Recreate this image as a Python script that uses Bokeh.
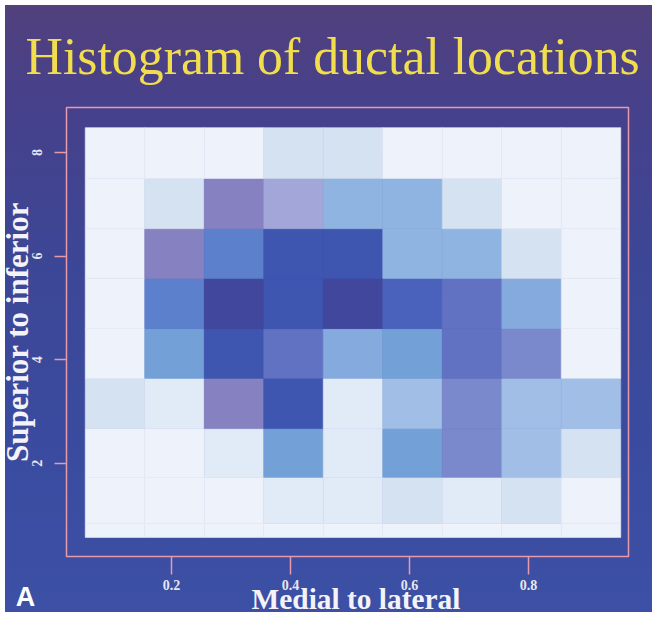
from bokeh.plotting import figure
from bokeh.models import ColumnDataSource, LinearColorMapper, FixedTicker, Label, Title
from bokeh.embed import file_html
from bokeh.resources import INLINE

# ---------------- data ----------------
# bin edges (medial->lateral on x, superior->inferior on y)
x_edges = [0.055, 0.155, 0.255, 0.355, 0.455, 0.555, 0.655, 0.755, 0.855, 0.955]
y_edges = [0.57, 0.84, 1.73, 2.67, 3.64, 4.60, 5.57, 6.53, 7.50, 8.48]
# histogram levels per bin, rows listed from the lowest y bin to the highest
counts_row0 = [0, 0, 0, 0, 0, 0, 0, 0, 0]
counts_row1 = [0, 0, 0, 1, 1, 2, 1, 2, 0]
counts_row2 = [0, 0, 1, 7, 1, 7, 9, 3, 2]
counts_row3 = [2, 1, 8, 13, 1, 3, 9, 3, 3]
counts_row4 = [0, 7, 13, 11, 6, 7, 11, 9, 0]
counts_row5 = [0, 10, 14, 13, 14, 12, 11, 6, 0]
counts_row6 = [0, 8, 10, 13, 13, 4, 4, 2, 0]
counts_row7 = [0, 2, 8, 5, 4, 4, 2, 0, 0]
counts_row8 = [0, 0, 0, 2, 2, 0, 0, 0, 0]
counts = [counts_row0, counts_row1, counts_row2, counts_row3, counts_row4,
          counts_row5, counts_row6, counts_row7, counts_row8]

x_ticks = [0.2, 0.4, 0.6, 0.8]
x_tick_labels = ["0.2", "0.4", "0.6", "0.8"]
y_ticks = [2, 4, 6, 8]
y_tick_labels = ["2", "4", "6", "8"]

title_text = "Histogram of ductal locations"
x_title = "Medial to lateral"
y_title = "Superior to inferior"
panel_tag = "A"

# ---------------- styles ----------------
palette = ["#eef2fb", "#e1eaf7", "#d5e2f2", "#a0bee6", "#90b4e2", "#a2a6d8",
           "#84aade", "#74a0d8", "#8682c2", "#7a88cc", "#5c80cc", "#6272c2",
           "#4a62bc", "#3f56b0", "#41479c"]
pink = "#e89aaa"
serif = "Liberation Serif"
label_white = "#f3f3f8"

left, right, bottom, top, val = [], [], [], [], []
for j in range(len(y_edges) - 1):
    for i in range(len(x_edges) - 1):
        left.append(x_edges[i])
        right.append(x_edges[i + 1])
        bottom.append(y_edges[j])
        top.append(y_edges[j + 1])
        val.append(counts[j][i])
src = ColumnDataSource(dict(left=left, right=right, bottom=bottom, top=top, count=val))
mapper = LinearColorMapper(palette=palette, low=-0.5, high=len(palette) - 0.5)

p = figure(width=657, height=617, x_range=(0.0235, 0.968), y_range=(0.201, 8.869),
           output_backend="svg", toolbar_location=None,
           min_border_left=66, min_border_right=29, min_border_top=107, min_border_bottom=61)

p.background_fill_color = None
p.border_fill_color = None
p.styles = {
    "background": "linear-gradient(180deg, #52417c 0%, #47408a 16%, #3d4695 40%, #3a4b9f 70%, #3c50a5 100%)",
    "box-shadow": "inset 0 0 0 5px #ffffff",
}
p.outline_line_color = pink
p.outline_line_width = 1.5
p.grid.visible = False

p.quad(left="left", right="right", bottom="bottom", top="top", source=src,
       fill_color={"field": "count", "transform": mapper},
       line_color={"field": "count", "transform": mapper}, line_width=0.6)

# title
p.title.text = title_text
p.title.text_font = serif
p.title.text_font_size = "51.8px"
p.title.text_font_style = "normal"
p.title.text_color = "#f1dd4e"
p.title.align = "left"
p.title.offset = -41
p.title.standoff = 46

# axes
for ax in (p.xaxis[0], p.yaxis[0]):
    ax.axis_line_color = None
    ax.major_tick_line_color = pink
    ax.major_tick_line_width = 1.5
    ax.major_tick_in = 0
    ax.minor_tick_line_color = None
    ax.major_label_text_font = serif
    ax.major_label_text_font_style = "bold"
    ax.major_label_text_font_size = "14px"
    ax.major_label_text_color = "#e8e6ef"

xa = p.xaxis[0]
xa.ticker = FixedTicker(ticks=x_ticks)
xa.major_label_overrides = dict(zip(x_ticks, x_tick_labels))
xa.major_tick_out = 18
xa.major_label_standoff = 5

ya = p.yaxis[0]
ya.ticker = FixedTicker(ticks=y_ticks)
ya.major_label_overrides = dict(zip(y_ticks, y_tick_labels))
ya.major_label_orientation = "vertical"
ya.major_tick_out = 12
ya.major_label_standoff = 12

# axis titles as side titles placed just outside the axes
p.add_layout(Title(text=x_title, align="left", vertical_align="top", offset=185, standoff=-20,
                   text_font=serif, text_font_style="bold", text_font_size="29.4px",
                   text_color=label_white), "below")
p.add_layout(Title(text=y_title, align="center", vertical_align="bottom", standoff=-11,
                   text_font=serif, text_font_style="bold", text_font_size="31px",
                   text_color=label_white), "left")

# panel letter, kept in a side panel so it is not clipped to the frame
p.add_layout(Label(x=-0.062, y=-0.59, text=panel_tag, text_font="Liberation Sans",
                   text_font_style="bold", text_font_size="27px", text_color="white",
                   text_baseline="alphabetic"), "right")

open("out.html", "w").write(file_html(p, INLINE))
